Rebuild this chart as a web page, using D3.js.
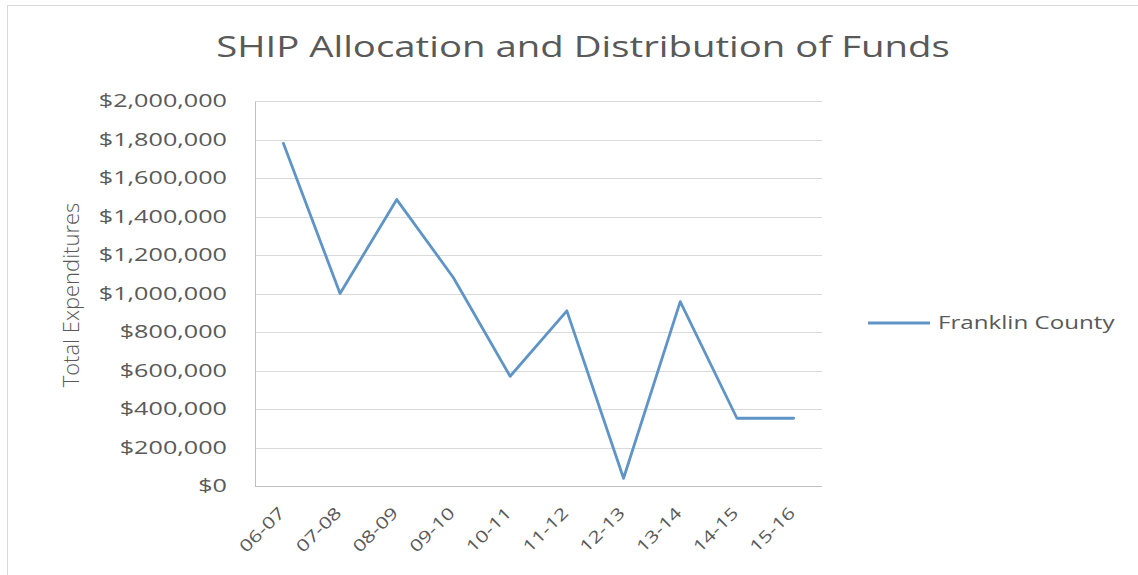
<!DOCTYPE html>
<html>
<head>
<meta charset="utf-8">
<script src="https://cdn.jsdelivr.net/npm/d3@7"></script>
<style>
html,body{margin:0;padding:0;background:#fff;}
svg{display:block;}
</style>
</head>
<body>
<svg id="chart" width="1138" height="575"></svg>
<script>
const categories = ["06-07","07-08","08-09","09-10","10-11","11-12","12-13","13-14","14-15","15-16"];
const franklinValues = [1780000, 1000000, 1488000, 1082000, 570000, 910000, 40000, 958000, 352000, 352000];
const yTicks = [0, 200000, 400000, 600000, 800000, 1000000, 1200000, 1400000, 1600000, 1800000, 2000000];
const seriesName = "Franklin County";
const titleText = "SHIP Allocation and Distribution of Funds";
const yTitle = "Total Expenditures";

(function () {
const svg = d3.select("#chart");
const W = 1138, H = 575;
const plotLeft = 255, plotRight = 822, plotTop = 101, plotBottom = 486;
const textColor = "#595959";
const lineColor = "#5f94c6";
const font = "'Open Sans', 'Liberation Sans', sans-serif";
const sx = 1.4; // horizontal stretch of the text in the reference

// outer frame
svg.append("rect").attr("x", 7.5).attr("y", 5.5).attr("width", W + 20).attr("height", H + 20)
  .attr("fill", "#fff").attr("stroke", "#d9d9d9").attr("stroke-width", 1);

const x = d3.scalePoint().domain(categories).range([plotLeft, plotRight]).padding(0.5);
const y = d3.scaleLinear().domain([0, 2000000]).range([plotBottom, plotTop]);

// gridlines
svg.append("g").selectAll("line").data(yTicks).join("line")
  .attr("x1", plotLeft).attr("x2", plotRight)
  .attr("y1", d => Math.round(y(d)) + 0.5).attr("y2", d => Math.round(y(d)) + 0.5)
  .attr("stroke", "#d9d9d9").attr("stroke-width", 1);

// y axis
const fmt = d => "$" + d3.format(",")(d);
const yAxis = svg.append("g").attr("transform", `translate(${plotLeft},0)`)
  .call(d3.axisLeft(y).tickValues(yTicks).tickFormat(fmt).tickSize(0).tickPadding(0));
yAxis.select(".domain").attr("stroke", "#bfbfbf");
yAxis.selectAll("text").attr("fill", textColor).attr("font-size", 18).attr("font-family", font)
  .attr("x", 0).attr("transform", `translate(-28,0) scale(${sx},1)`);

// x axis
const xAxis = svg.append("g").attr("transform", `translate(0,${plotBottom})`)
  .call(d3.axisBottom(x).tickSize(0).tickFormat(d => d));
xAxis.select(".domain").attr("stroke", "#bfbfbf").attr("d", `M${plotLeft},0.5H${plotRight}`);
xAxis.selectAll("text")
  .attr("fill", textColor).attr("font-size", 16.5).attr("font-family", font)
  .attr("text-anchor", "end").attr("dy", 0).attr("y", 0)
  .attr("transform", "translate(2,28) rotate(-45) scale(1.3,1)");

// line
const line = d3.line().x((d, i) => x(categories[i])).y(d => y(d));
svg.append("path").datum(franklinValues)
  .attr("d", line).attr("fill", "none")
  .attr("stroke", lineColor).attr("stroke-width", 2.8)
  .attr("stroke-linejoin", "round").attr("stroke-linecap", "round");

// title
svg.append("text").attr("transform", "translate(583,57) scale(1.3,1)").attr("text-anchor", "middle")
  .attr("font-size", 29.5).attr("font-family", font).attr("fill", textColor)
  .text(titleText);

// y title
svg.append("text").attr("transform", "translate(79,295) rotate(-90)")
  .attr("text-anchor", "middle").attr("font-size", 22).attr("font-family", font)
  .attr("font-weight", 300).attr("fill", textColor).text(yTitle);

// legend
const lg = svg.append("g").attr("transform", "translate(868,323)");
lg.append("line").attr("x1", 0).attr("x2", 62).attr("y1", 0).attr("y2", 0)
  .attr("stroke", lineColor).attr("stroke-width", 2.8);
lg.append("text").attr("transform", `translate(70,6) scale(1.38,1)`)
  .attr("font-size", 17.5).attr("font-family", font)
  .attr("fill", textColor).text(seriesName);
})();
</script>
</body>
</html>
